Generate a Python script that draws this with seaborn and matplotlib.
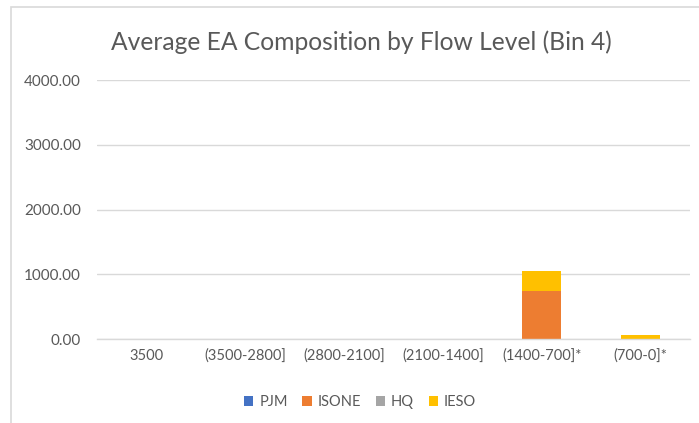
import matplotlib
matplotlib.use("Agg")
import matplotlib.pyplot as plt
from matplotlib.patches import Rectangle, Patch
import seaborn as sns
import pandas as pd
import numpy as np

categories = ["3500", "(3500-2800]", "(2800-2100]", "(2100-1400]", "(1400-700]*", "(700-0]*"]
pjm = [0, 0, 0, 0, 0, 0]
isone = [0, 0, 0, 0, 741, 0]
hq = [0, 0, 0, 0, 0, 0]
ieso = [0, 0, 0, 0, 310, 65]
yticks = [0, 1000, 2000, 3000, 4000]

series = ["PJM", "ISONE", "HQ", "IESO"]
colors = {"PJM": "#4472C4", "ISONE": "#ED7D31", "HQ": "#A5A5A5", "IESO": "#FFC000"}

sns.set_theme(style="white")
plt.rcParams["font.family"] = ["Lato", "DejaVu Sans"]

df = pd.DataFrame({"category": categories, "PJM": pjm, "ISONE": isone, "HQ": hq, "IESO": ieso})
cum = df[series].cumsum(axis=1)

fig = plt.figure(figsize=(6.99, 4.23), dpi=100)
ax = fig.add_axes([97 / 699, (423 - 339) / 423, (690 - 97) / 699, (339 - 80) / 423])

# stacked bars: draw cumulative totals from the top segment down
for name in reversed(series):
    sns.barplot(x=df["category"], y=cum[name], color=colors[name], width=0.39,
                ax=ax, saturation=1, edgecolor="none", linewidth=0)

ax.set_ylim(0, 4000)
ax.set_yticks(yticks)
ax.set_yticklabels([f"{v:.2f}" for v in yticks])
ax.yaxis.grid(True, color="#d9d9d9", linewidth=1)
ax.set_axisbelow(True)
for s in ["top", "right", "left"]:
    ax.spines[s].set_visible(False)
ax.spines["bottom"].set_color("#d9d9d9")
ax.spines["bottom"].set_linewidth(1)
ax.set_xlabel("")
ax.set_ylabel("")
ax.tick_params(axis="both", length=0, labelcolor="#595959")
ax.tick_params(axis="x", pad=7, labelsize=10.5)
ax.tick_params(axis="y", pad=11.5, labelsize=11)

fig.text(361 / 699, 1 - 42 / 423, "Average EA Composition by Flow Level (Bin 4)",
         ha="center", va="center", fontsize=17.7, color="#595959")

handles = [Patch(facecolor=colors[n], edgecolor="none", label=n) for n in series]
fig.legend(handles=handles, loc="center", bbox_to_anchor=(360 / 699, 1 - 402 / 423),
           ncol=4, frameon=False, fontsize=10.5, labelcolor="#595959",
           handlelength=0.65, handleheight=0.65, handletextpad=0.4, columnspacing=1.0)

# chart area border
fig.patches.append(Rectangle((11 / 699, -0.05), 1.2, 1 - 7 / 423 + 0.05,
                             transform=fig.transFigure, fill=False,
                             edgecolor="#d9d9d9", linewidth=1.2))

fig.savefig("out.png", dpi=100, facecolor="white")
